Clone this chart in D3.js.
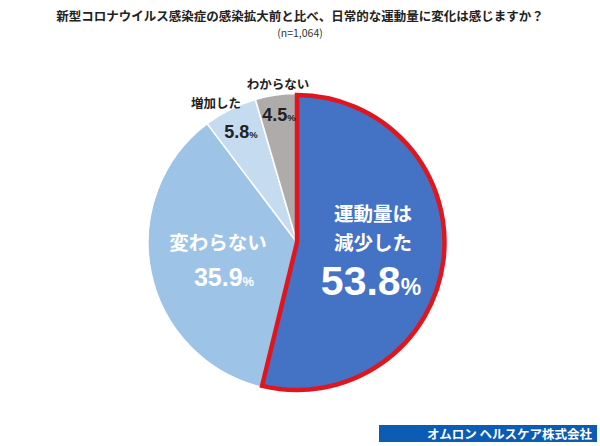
<!DOCTYPE html>
<html>
<head>
<meta charset="utf-8">
<script src="https://cdn.jsdelivr.net/npm/d3@7"></script>
<style>
  body { margin: 0; background: #fff; }
</style>
</head>
<body>
<div id="container"></div>
<script>
// data
let categories = ['運動量は減少した', '変わらない', '増加した', 'わからない'];
let values = [53.8, 35.9, 5.8, 4.5];
let colors = ['#4472C4', '#9DC3E6', '#C5DCF0', '#AFABAB'];

let w = 600,
    h = 446;

let jp = '"Noto Sans CJK JP", sans-serif',
    num = '"Liberation Sans Narrow", "Liberation Sans", Arial, sans-serif';

let viz = d3.select('#container')
    .append('svg')
      .attr('width', w)
      .attr('height', h)
      .attr('font-family', jp)
      .style('background', '#fff');

let cx = 297, cy = 242.5, r = 149;

function main() {
    // title
    viz.append('text')
        .attr('x', 300).attr('y', 21)
        .attr('text-anchor', 'middle')
        .attr('font-size', 12.5)
        .attr('font-weight', 'bold')
        .attr('fill', '#222')
        .text('新型コロナウイルス感染症の感染拡大前と比べ、日常的な運動量に変化は感じますか？');
    viz.append('text')
        .attr('x', 300).attr('y', 37)
        .attr('text-anchor', 'middle')
        .attr('font-size', 10.5)
        .attr('fill', '#333')
        .text('(n=1,064)');

    let pie = d3.pie().sort(null).value(d => d)(values);
    let arc = d3.arc().innerRadius(0).outerRadius(r);

    let g = viz.append('g').attr('transform', 'translate(' + cx + ',' + cy + ')');

    g.selectAll('path.slice')
        .data(pie)
        .enter()
        .append('path')
          .attr('class', 'slice')
          .attr('d', arc)
          .attr('fill', (d, i) => colors[i])
          .attr('stroke', '#fff')
          .attr('stroke-width', 1.5);

    // red border on the first slice
    g.append('path')
        .attr('d', d3.arc().innerRadius(0).outerRadius(r - 1.5)(pie[0]))
        .attr('fill', 'none')
        .attr('stroke', '#E0161E')
        .attr('stroke-width', 4.5)
        .attr('stroke-linejoin', 'miter');

    // big slice label
    let big = viz.append('g').attr('fill', '#fff').attr('text-anchor', 'middle').attr('font-weight', 'bold');
    big.append('text').attr('x', 373).attr('y', 221).attr('font-size', 19.5).text('運動量は');
    big.append('text').attr('x', 373).attr('y', 250).attr('font-size', 19.5).text('減少した');
    let t1 = big.append('text').attr('x', 371).attr('y', 295)
        .attr('font-family', num).attr('font-size', 41);
    t1.append('tspan').text(values[0].toFixed(1));
    t1.append('tspan').attr('font-size', 23).text('%');

    let mid = viz.append('g').attr('fill', '#fff').attr('text-anchor', 'middle').attr('font-weight', 'bold');
    mid.append('text').attr('x', 218).attr('y', 250).attr('font-size', 19.5).text('変わらない');
    let t2 = mid.append('text').attr('x', 224).attr('y', 286)
        .attr('font-family', num).attr('font-size', 25);
    t2.append('tspan').text(values[1].toFixed(1));
    t2.append('tspan').attr('font-size', 13).text('%');

    // small slices
    let sm = viz.append('g').attr('text-anchor', 'middle').attr('font-weight', 'bold').attr('fill', '#222');
    sm.append('text').attr('x', 216).attr('y', 108).attr('font-size', 12.5).text('増加した');
    let t3 = sm.append('text').attr('x', 241).attr('y', 138)
        .attr('font-family', num).attr('font-size', 18);
    t3.append('tspan').text(values[2].toFixed(1));
    t3.append('tspan').attr('font-size', 9.5).text('%');

    sm.append('text').attr('x', 278).attr('y', 89).attr('font-size', 12.5).text('わからない');
    let t4 = sm.append('text').attr('x', 279).attr('y', 121)
        .attr('font-family', num).attr('font-size', 18);
    t4.append('tspan').text(values[3].toFixed(1));
    t4.append('tspan').attr('font-size', 9.5).text('%');

    // footer
    viz.append('rect')
        .attr('x', 379).attr('y', 425)
        .attr('width', 218).attr('height', 17)
        .attr('fill', '#0B5CB5');
    viz.append('text')
        .attr('x', 592).attr('y', 438.5)
        .attr('text-anchor', 'end')
        .attr('font-size', 12.5)
        .attr('font-weight', 'bold')
        .attr('fill', '#fff')
        .text('オムロン ヘルスケア株式会社');
}

main();
</script>
</body>
</html>
